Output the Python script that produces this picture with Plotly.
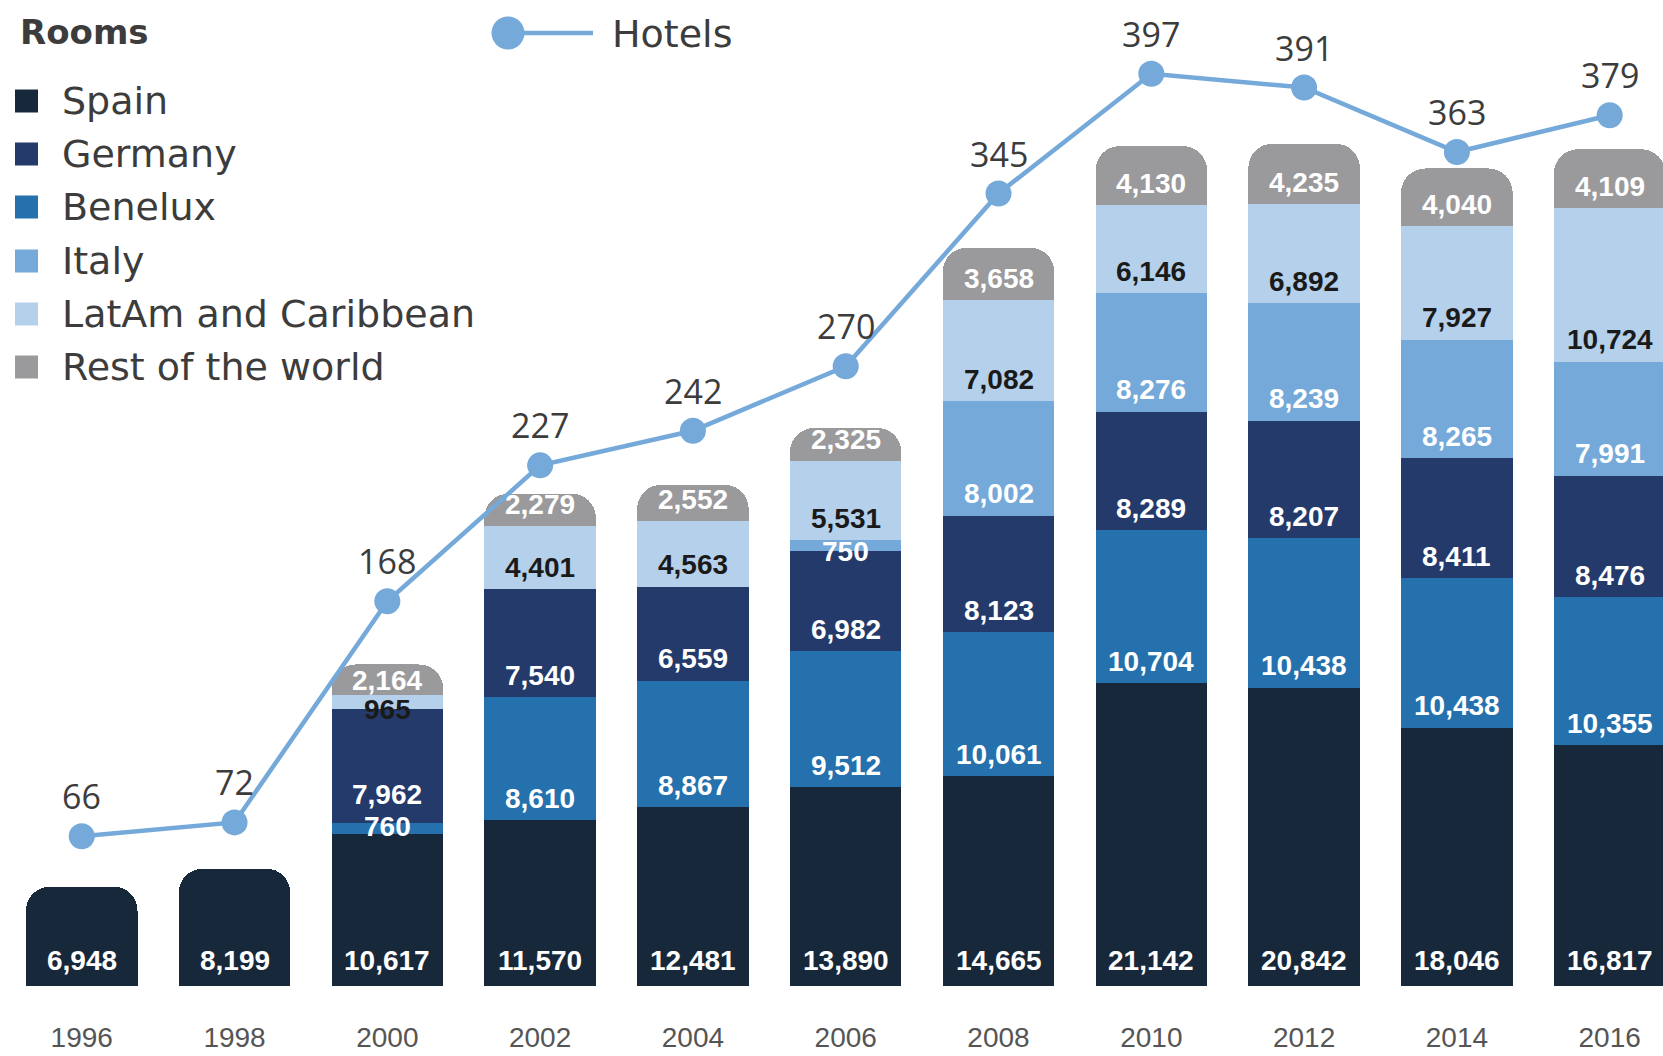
import plotly.graph_objects as go

# ---------------- data ----------------
years = ["1996", "1998", "2000", "2002", "2004", "2006", "2008", "2010", "2012", "2014", "2016"]
spain = [6948, 8199, 10617, 11570, 12481, 13890, 14665, 21142, 20842, 18046, 16817]
benelux = [None, None, 760, 8610, 8867, 9512, 10061, 10704, 10438, 10438, 10355]
germany = [None, None, 7962, 7540, 6559, 6982, 8123, 8289, 8207, 8411, 8476]
italy = [None, None, None, None, None, 750, 8002, 8276, 8239, 8265, 7991]
latam = [None, None, 965, 4401, 4563, 5531, 7082, 6146, 6892, 7927, 10724]
rest = [None, None, 2164, 2279, 2552, 2325, 3658, 4130, 4235, 4040, 4109]
hotels = [66, 72, 168, 227, 242, 270, 345, 397, 391, 363, 379]

# stacking order bottom -> top
series = [
    ("Spain", spain, "#18283b", "#ffffff"),
    ("Benelux", benelux, "#2571ad", "#ffffff"),
    ("Germany", germany, "#233a6b", "#ffffff"),
    ("Italy", italy, "#74a9d9", "#ffffff"),
    ("LatAm and Caribbean", latam, "#b5d0ea", "#1a1a1a"),
    ("Rest of the world", rest, "#9a9a9c", "#ffffff"),
]
legend_order = ["Spain", "Germany", "Benelux", "Italy", "LatAm and Caribbean", "Rest of the world"]

# label offset overrides (pixels above segment base)
label_shift = {
    ("Spain", None): 26,
    ("Benelux", "2000"): 8,
    ("Germany", "2000"): 29,
    ("LatAm and Caribbean", "2000"): 0,
    ("Rest of the world", "2000"): 15,
    ("Italy", "2006"): 0,
}
DEFAULT_SHIFT = 22

W, H = 1663, 1056
PLOT_H = 986
LINE_COLOR = "#74a9d9"
TXT = "#3c3c3c"
LEG_FONT = "DejaVu Sans, Open Sans, sans-serif"
NUM_FONT = "Liberation Sans Narrow, Liberation Sans, Arial, sans-serif"

fig = go.Figure()
for name, vals, color, _ in series:
    fig.add_trace(go.Bar(
        x=years, y=vals, name=name, marker=dict(color=color, line=dict(width=0)),
        showlegend=False, hoverinfo="skip",
    ))

fig.add_trace(go.Scatter(
    x=years, y=hotels, yaxis="y2", mode="lines+markers", name="Hotels",
    line=dict(color=LINE_COLOR, width=4.5),
    marker=dict(color=LINE_COLOR, size=26),
    showlegend=False, hoverinfo="skip",
))

annotations = []
shapes = []

# bar segment labels
base = [0] * len(years)
for name, vals, color, tcol in series:
    for i, v in enumerate(vals):
        if v is None:
            continue
        if name == "Spain":
            sh = label_shift[("Spain", None)]
        else:
            sh = label_shift.get((name, years[i]), DEFAULT_SHIFT)
        annotations.append(dict(
            x=i, y=base[i], xref="x", yref="y", text=f"{v:,}",
            showarrow=False, yanchor="middle", xanchor="center", yshift=sh,
            font=dict(family=NUM_FONT, size=28, color=tcol, weight="bold"),
        ))
        base[i] += v

# hotel labels
for i, v in enumerate(hotels):
    annotations.append(dict(
        x=i, y=v, xref="x", yref="y2", text=str(v), showarrow=False,
        yanchor="middle", xanchor="center", yshift=40,
        font=dict(family="Open Sans, sans-serif", size=34, color=TXT),
    ))

# ---------------- manual legend ----------------
def px(xp):
    return xp / W

def py(yp):
    return 1 - yp / PLOT_H

annotations.append(dict(
    x=px(18), y=py(32), xref="paper", yref="paper", text="<b>Rooms</b>",
    showarrow=False, xanchor="left", yanchor="middle",
    font=dict(family=LEG_FONT, size=34, color=TXT),
))
colors = {n: c for n, _, c, _ in series}
row_y = [101, 154, 207, 261, 314, 367]
for name, yc in zip(legend_order, row_y):
    shapes.append(dict(
        type="rect", xref="paper", yref="paper",
        x0=px(15), x1=px(38), y0=py(yc - 11.5), y1=py(yc + 11.5),
        fillcolor=colors[name], line=dict(width=0),
    ))
    annotations.append(dict(
        x=px(60), y=py(yc), xref="paper", yref="paper", text=name,
        showarrow=False, xanchor="left", yanchor="middle",
        font=dict(family=LEG_FONT, size=38, color=TXT),
    ))

# hotels legend
shapes.append(dict(
    type="line", xref="paper", yref="paper", x0=px(508), x1=px(593), y0=py(33), y1=py(33),
    line=dict(color=LINE_COLOR, width=4.5),
))
shapes.append(dict(
    type="circle", xref="paper", yref="paper",
    x0=px(508 - 16.5), x1=px(508 + 16.5), y0=py(33 - 16.5), y1=py(33 + 16.5),
    fillcolor=LINE_COLOR, line=dict(width=0),
))
annotations.append(dict(
    x=px(610), y=py(34), xref="paper", yref="paper", text="Hotels",
    showarrow=False, xanchor="left", yanchor="middle",
    font=dict(family=LEG_FONT, size=38, color=TXT),
))

fig.update_layout(
    width=W, height=H,
    margin=dict(l=0, r=0, t=0, b=H - PLOT_H, pad=0),
    paper_bgcolor="white", plot_bgcolor="white",
    barmode="stack", bargap=0.27, barcornerradius=24,
    showlegend=False,
    xaxis=dict(
        type="category", range=[-0.535, 10.349], showgrid=False, zeroline=False,
        showline=False, ticks="", ticklabelstandoff=32,
        tickfont=dict(family=NUM_FONT, size=28, color="#555555"),
    ),
    yaxis=dict(range=[0, 68900], visible=False, showgrid=False, zeroline=False),
    yaxis2=dict(range=[1, 429], overlaying="y", visible=False, showgrid=False, zeroline=False),
    annotations=annotations,
    shapes=shapes,
)

fig.write_html("out.html")
